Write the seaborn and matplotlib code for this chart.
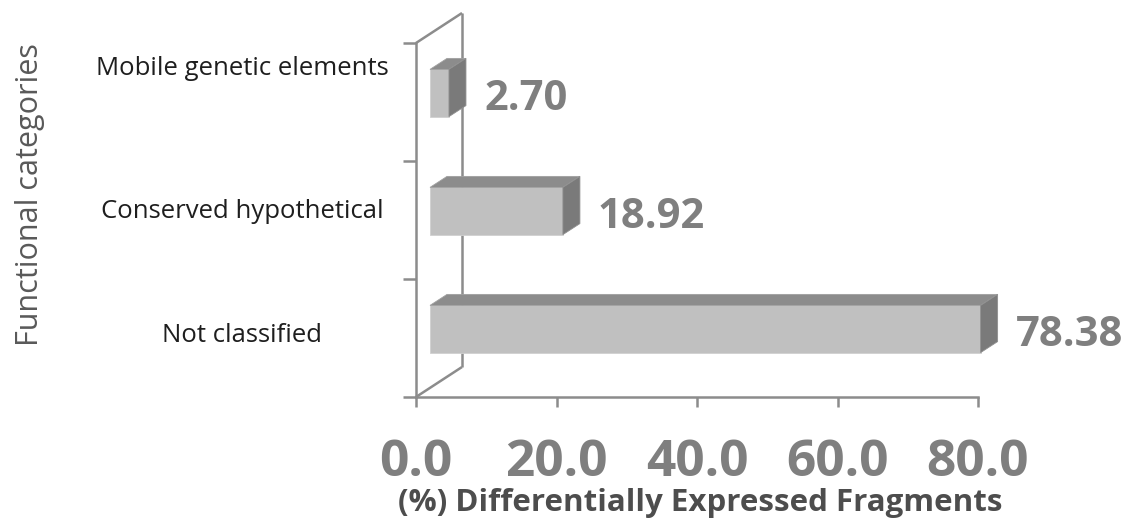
import matplotlib
matplotlib.use("Agg")
import matplotlib.pyplot as plt
from matplotlib.patches import Polygon
from matplotlib.transforms import ScaledTranslation
import pandas as pd
import seaborn as sns

# data
categories = ["Mobile genetic elements", "Conserved hypothetical", "Not classified"]
percent = [2.70, 18.92, 78.38]
xticks = [0, 20, 40, 60, 80]

# colours
front_col = "#c0c0c0"
top_col = "#8c8c8c"
side_col = "#7a7a7a"
frame_col = "#8c8c8c"
num_col = "#7f7f7f"

sns.set_style("white")
plt.rcParams["font.family"] = ["Open Sans", "DejaVu Sans"]

W, H = 1126, 518
fig = plt.figure(figsize=(W / 100, H / 100), dpi=100)
# axes box in pixels: x 416..978, y 43..397
ax = fig.add_axes([416 / W, 1 - 397 / H, 562 / W, 354 / H])

df = pd.DataFrame({"category": categories, "percent": percent})
sns.barplot(data=df, x="percent", y="category", orient="h", width=0.4,
            color=front_col, saturation=1, edgecolor="#d0d0d0", linewidth=0.6,
            ax=ax, zorder=3)

ax.set_xlim(0, 80)
ax.set_ylim(2.5, -0.5)

# pixel -> data helpers (y axis is inverted, "up" means smaller value)
ppu_x = 562 / 80
ppu_y = 354 / 3


def off(dx_px, up_px):
    return dx_px / ppu_x, -up_px / ppu_y


# fake 3D box walls
bx, by = off(46, 30)
for xs, ys in [([0, bx], [2.5, 2.5 + by]),
               ([0, bx], [-0.5, -0.5 + by]),
               ([bx, bx], [2.5 + by, -0.5 + by])]:
    ax.plot(xs, ys, color=frame_col, lw=1.8, clip_on=False, zorder=1,
            solid_capstyle="butt")

# move bar fronts into the box and add top / side faces
sx, sy = off(14, 9)
dx, dy = off(17, 11)
_, text_dy = off(0, -6)
for p, v in zip(ax.patches, percent):
    p.set_x(p.get_x() + sx)
    p.set_y(p.get_y() + sy)
    p.set_clip_on(False)
    x0 = p.get_x()
    x1 = x0 + p.get_width()
    yt = p.get_y()
    yb = yt + p.get_height()
    ax.add_patch(Polygon([(x0, yt), (x1, yt), (x1 + dx, yt + dy), (x0 + dx, yt + dy)],
                         closed=True, facecolor=top_col, edgecolor="#a0a0a0",
                         lw=0.6, clip_on=False, zorder=3))
    ax.add_patch(Polygon([(x1, yt), (x1, yb), (x1 + dx, yb + dy), (x1 + dx, yt + dy)],
                         closed=True, facecolor=side_col, edgecolor="#909090",
                         lw=0.6, clip_on=False, zorder=3))
    ax.text(x1 + 35 / ppu_x, (yt + yb) / 2 + text_dy, f"{v:.2f}", ha="left",
            va="center", fontsize=30, fontweight="bold", color=num_col, clip_on=False)

# axes styling
for s in ["top", "right"]:
    ax.spines[s].set_visible(False)
for s in ["left", "bottom"]:
    ax.spines[s].set_color(frame_col)
    ax.spines[s].set_linewidth(1.8)
    ax.spines[s].set_zorder(2)

ax.set_xticks(xticks)
ax.set_xticklabels([f"{t:.1f}" for t in xticks], fontsize=37,
                   fontweight="bold", color=num_col)
ax.tick_params(axis="x", bottom=True, length=7.5, width=1.8, color=frame_col, pad=22)

ax.set_yticks([0, 1, 2])
ax.set_yticks([-0.5, 0.5, 1.5, 2.5], minor=True)
ax.tick_params(axis="y", which="minor", left=True, length=9.5, width=1.8, color=frame_col)
ax.tick_params(axis="y", which="major", left=True, length=0, pad=125)
ax.set_yticklabels(categories, fontsize=18.5, color="#1e1e1e")
label_up = [37, 11, 6]
for lab, up in zip(ax.get_yticklabels(), label_up):
    lab.set_ha("center")
    lab.set_transform(lab.get_transform() + ScaledTranslation(0, up / 100, fig.dpi_scale_trans))

ax.set_xlabel("(%) Differentially Expressed Fragments", fontsize=22.5,
              fontweight="bold", color="#4d4d4d", va="center")
ax.xaxis.set_label_coords(0.505, -0.30)
ax.set_ylabel("Functional categories", fontsize=22, color="#595959", va="center")
ax.yaxis.set_label_coords(-0.686, 0.571)

fig.savefig("out.png", dpi=100)
